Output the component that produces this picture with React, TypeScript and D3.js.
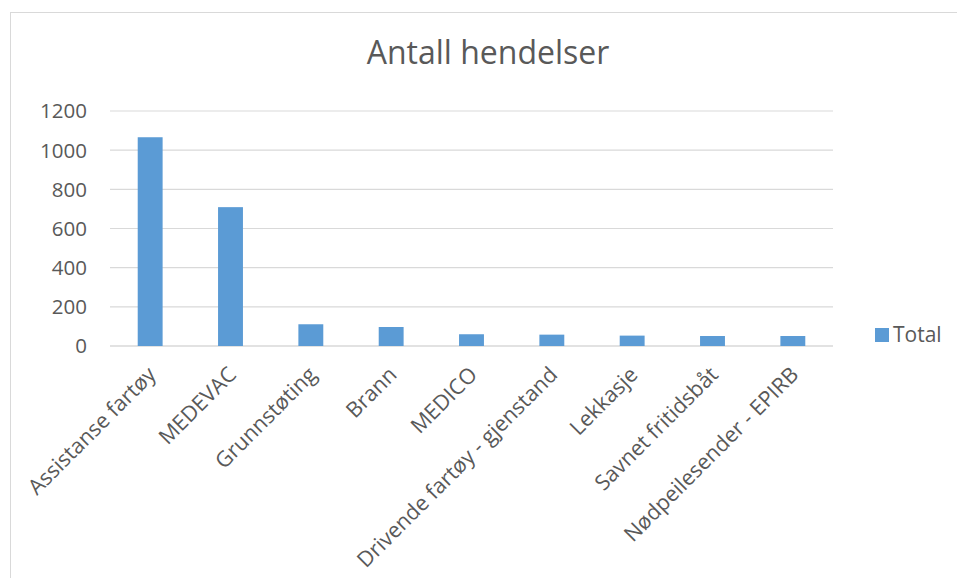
import React from "react";
import * as d3 from "d3";

const categories = [
  "Assistanse fartøy",
  "MEDEVAC",
  "Grunnstøting",
  "Brann",
  "MEDICO",
  "Drivende fartøy - gjenstand",
  "Lekkasje",
  "Savnet fritidsbåt",
  "Nødpeilesender - EPIRB",
];
const values = [1066, 709, 111, 97, 60, 58, 53, 51, 51];
const yTicks = [0, 200, 400, 600, 800, 1000, 1200];
const seriesName = "Total";
const title = "Antall hendelser";

const W = 957;
const H = 578;
const plot = { left: 110, right: 833, top: 111, bottom: 346 };
const FONT = "'Open Sans', sans-serif";
const TEXT = "#595959";
const BAR = "#5B9BD5";
const GRID = "#D9D9D9";

export default function App() {
  const x = d3
    .scaleBand<string>()
    .domain(categories)
    .range([plot.left, plot.right])
    .paddingInner(0.69)
    .paddingOuter(0.345);
  const y = d3.scaleLinear().domain([0, 1200]).range([plot.bottom, plot.top]);
  const xc = d3.scaleBand<string>().domain(categories).range([plot.left, plot.right]);

  return (
    <svg
      width={W}
      height={H}
      style={{ position: "absolute", left: 0, top: 0, display: "block" }}
      fontFamily={FONT}
    >
      <rect x={0} y={0} width={W} height={H} fill="#fff" />
      <rect x={10.5} y={12.5} width={W + 10} height={H + 10} fill="none" stroke={GRID} strokeWidth={1} />
      <text x={488} y={64} textAnchor="middle" fontSize={32} fill={TEXT}>
        {title}
      </text>
      {yTicks.map((t) => (
        <g key={t}>
          <line x1={plot.left} x2={plot.right} y1={y(t)} y2={y(t)} stroke={GRID} strokeWidth={t === 0 ? 1.5 : 1.2} />
          <text x={87} y={y(t)} dy="0.36em" textAnchor="end" fontSize={20.5} fill={TEXT}>
            {t}
          </text>
        </g>
      ))}
      {categories.map((c, i) => (
        <rect
          key={c}
          x={x(c)}
          y={y(values[i])}
          width={x.bandwidth()}
          height={y(0) - y(values[i])}
          fill={BAR}
        />
      ))}
      {categories.map((c) => {
        const cx = (xc(c) as number) + xc.bandwidth() / 2 + 7;
        const cy = plot.bottom + 30;
        return (
          <text
            key={c}
            x={cx}
            y={cy}
            textAnchor="end"
            fontSize={21.5}
            fill={TEXT}
            transform={`rotate(-45, ${cx}, ${cy})`}
          >
            {c}
          </text>
        );
      })}
      <rect x={875} y={328} width={14} height={14} fill={BAR} />
      <text x={893} y={342} fontSize={21} fill={TEXT}>
        {seriesName}
      </text>
    </svg>
  );
}
